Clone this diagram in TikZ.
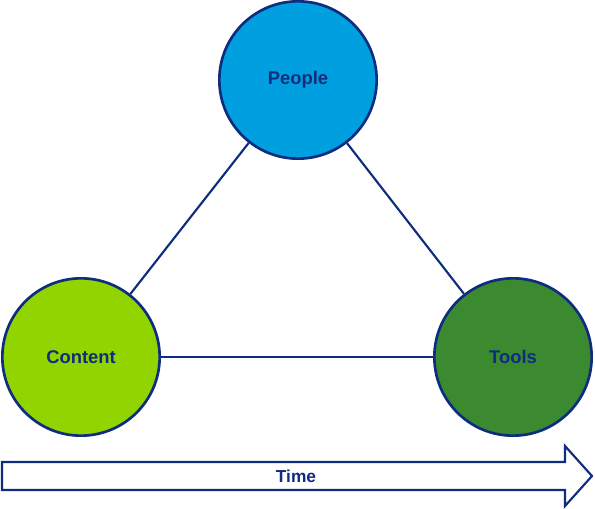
\documentclass[tikz,border=0pt]{standalone}
\usepackage{fontspec}
\setmainfont{Liberation Sans}
\definecolor{navy}{HTML}{0E2D7E}
\definecolor{peoplecol}{HTML}{009FDF}
\definecolor{contentcol}{HTML}{92D400}
\definecolor{toolscol}{HTML}{3B8A30}
\begin{document}
\begin{tikzpicture}[x=0.75pt,y=-0.75pt,
    blob/.style={circle, draw=navy, line width=2pt, minimum size=118pt, inner sep=0pt,
        font=\fontsize{13.8}{16}\selectfont\bfseries, text=navy},
    link/.style={draw=navy, line width=1.6pt}]
                    \useasboundingbox (0,0) rectangle (595,509);

                    \node (people) at (298,80) [blob, fill=peoplecol] {People};
                    \node (content) at (81,357) [blob, fill=contentcol] {Content};
                    \node (tools) at (513,357) [blob, fill=toolscol] {Tools};

                    \path [link]
                        (people) edge (content)
                        (people) edge (tools)
                        (content) edge (tools)
                    ;

                    \draw [draw=navy, line width=1.6pt, fill=white, line join=miter]
                        (2,462) -- (565,462) -- (565,446) -- (592,476) -- (565,506)
                        -- (565,490) -- (2,490) -- cycle;

                    \node (time) at (296,476) [font=\fontsize{13}{15}\selectfont\bfseries, text=navy] {Time};
                \end{tikzpicture}
\end{document}
